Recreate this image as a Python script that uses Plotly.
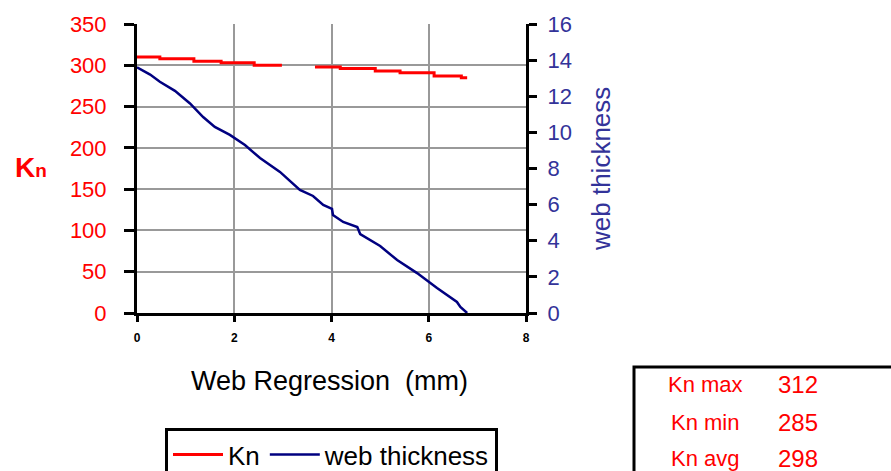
import plotly.graph_objects as go

# Kn vs web regression (step line, with a gap)
kn_x = [0, 0.47, 1.17, 1.73, 2.41, 2.98, None, 3.66, 4.18, 4.90, 5.41, 6.11, 6.67, 6.79]
kn_y = [310, 308, 305, 303, 300, 300, None, 298, 296, 293, 291, 287, 285, 285]

# web thickness vs web regression
web_x = [0, 0.27, 0.47, 0.78, 1.09, 1.36, 1.60, 1.91, 2.22, 2.53, 2.94, 3.35, 3.62, 3.83,
         4.01, 4.03, 4.24, 4.53, 4.59, 5.00, 5.35, 5.76, 6.17, 6.58, 6.65, 6.79]
web_y = [13.6, 13.2, 12.8, 12.3, 11.6, 10.85, 10.3, 9.86, 9.3, 8.58, 7.81, 6.81, 6.48, 5.98,
         5.76, 5.43, 5.04, 4.76, 4.37, 3.71, 2.93, 2.21, 1.38, 0.61, 0.33, 0.0]

stats_labels = ["Kn max", "Kn min", "Kn avg"]
stats_values = ["312", "285", "298"]

RED = "#ff0000"
NAVY = "#000080"
SLATE = "#333399"
FONT = "Liberation Sans, Arial, sans-serif"

W, H = 891, 471
def px(x):
    return x / W
def py(y):
    return (H - y) / H

fig = go.Figure()
fig.add_trace(go.Scatter(x=kn_x, y=kn_y, mode="lines", name="Kn",
                         line=dict(color=RED, width=3, shape="hv"),
                         connectgaps=False, yaxis="y"))
fig.add_trace(go.Scatter(x=web_x, y=web_y, mode="lines", name="web thickness",
                         line=dict(color=NAVY, width=2.5), yaxis="y2"))

fig.update_layout(
    width=W, height=H,
    margin=dict(l=0, r=0, t=0, b=0, autoexpand=False),
    paper_bgcolor="white", plot_bgcolor="white",
    font=dict(family=FONT),
    showlegend=True,
    legend=dict(orientation="h", x=px(165), y=py(428), xanchor="left", yanchor="top",
                bordercolor="black", borderwidth=3, bgcolor="white",
                font=dict(size=26, color="black", family=FONT),
                itemwidth=50, tracegroupgap=0),
    xaxis=dict(domain=[px(137), px(526)], range=[0, 8], tickvals=[0, 2, 4, 6, 8],
               showgrid=True, gridcolor="#999999", gridwidth=2,
               showline=True, linecolor="black", linewidth=3,
               ticks="outside", ticklen=6, tickwidth=3, tickcolor="black",
               ticklabelstandoff=6,
               tickfont=dict(size=12, color="black", family=FONT, weight="bold"),
               zeroline=False),
    yaxis=dict(domain=[py(313), py(24)], range=[0, 350], tickvals=list(range(0, 351, 50)),
               showgrid=True, gridcolor="#999999", gridwidth=2,
               showline=True, linecolor="black", linewidth=3,
               ticks="outside", ticklen=10, tickwidth=3, tickcolor="black",
               ticklabelstandoff=13,
               tickfont=dict(size=22, color=RED, family=FONT),
               zeroline=False),
    yaxis2=dict(overlaying="y", side="right", range=[0, 16], tickvals=list(range(0, 17, 2)),
                showgrid=False, showline=True, linecolor="black", linewidth=3,
                ticks="outside", ticklen=8, tickwidth=3, tickcolor="black",
                ticklabelstandoff=6,
                tickfont=dict(size=22, color=SLATE, family=FONT),
                zeroline=False),
)

ann = []
ann.append(dict(text="<b>K<span style='font-size:19px'>n</span></b>", x=px(31), y=py(167),
                xref="paper", yref="paper", showarrow=False, xanchor="center", yanchor="middle",
                font=dict(size=28, color=RED, family=FONT)))
ann.append(dict(text="web thickness", x=px(601), y=py(169), textangle=-90,
                xref="paper", yref="paper", showarrow=False, xanchor="center", yanchor="middle",
                font=dict(size=26, color=SLATE, family=FONT)))
ann.append(dict(text="Web Regression\u00a0\u00a0(mm)", x=px(329), y=py(381),
                xref="paper", yref="paper", showarrow=False, xanchor="center", yanchor="middle",
                font=dict(size=27, color="black", family=FONT)))
rows_y = [384, 422, 458]
for lab, val, yy in zip(stats_labels, stats_values, rows_y):
    ann.append(dict(text=lab, x=px(705), y=py(yy), xref="paper", yref="paper",
                    showarrow=False, xanchor="center", yanchor="middle",
                    font=dict(size=22, color=RED, family=FONT)))
    ann.append(dict(text=val, x=px(798), y=py(yy), xref="paper", yref="paper",
                    showarrow=False, xanchor="center", yanchor="middle",
                    font=dict(size=24, color=RED, family=FONT)))
fig.update_layout(annotations=ann)

fig.add_shape(type="rect", xref="paper", yref="paper",
              x0=px(634), x1=px(900), y0=py(480), y1=py(367),
              line=dict(color="black", width=3), fillcolor="rgba(0,0,0,0)")

fig.write_html("out.html")
